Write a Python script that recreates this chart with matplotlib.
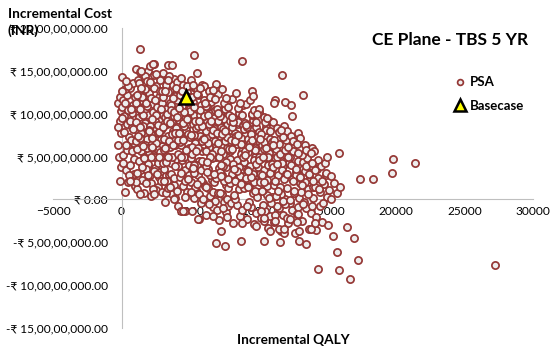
import matplotlib
matplotlib.use("Agg")
from matplotlib import pyplot as plt
from matplotlib.ticker import FuncFormatter, MultipleLocator

plt.rcParams['font.family'] = ['Lato', 'DejaVu Sans']

# PSA iterations: incremental QALY and incremental cost (in crore INR)
psa_qaly = [
    -280, -150, -60, -230, -110, -20, -190, -90, -260, -40,
    40, 130, 250, 360, 470, 580, 690, 780, 880, 960,
    90, 200, 310, 420, 530, 640, 740, 840, 920, 20,
    160, 280, 390, 500, 610, 720, 820, 900, 60, 450,
    1050, 1150, 1260, 1340, 1450, 1560, 1650, 1760, 1870, 1960,
    1100, 1210, 1300, 1420, 1520, 1610, 1720, 1820, 1910, 1380,
    1020, 1180, 1290, 1400, 1490, 1590, 1700, 1800, 1900, 1990,
    1080, 1230, 1330, 1470, 1540, 1680, 1740, 1850, 1940, 1620,
    2050, 2140, 2260, 2330, 2450, 2540, 2640, 2730, 2860, 2950,
    2090, 2200, 2300, 2400, 2500, 2600, 2700, 2800, 2900, 2990,
    2020, 2170, 2280, 2370, 2480, 2580, 2680, 2780, 2880, 2960,
    2110, 2230, 2350, 2430, 2520, 2620, 2750, 2830, 2920, 2060,
    3040, 3150, 3250, 3360, 3450, 3560, 3650, 3760, 3850, 3960,
    3080, 3190, 3300, 3400, 3500, 3600, 3700, 3800, 3900, 3990,
    3020, 3120, 3220, 3330, 3420, 3530, 3630, 3730, 3830, 3930,
    3100, 3210, 3310, 3390, 3480, 3580, 3690, 3790, 3880, 3970,
    4030, 4140, 4250, 4350, 4450, 4560, 4650, 4760, 4850, 4960,
    4080, 4180, 4290, 4390, 4490, 4590, 4690, 4790, 4890, 4990,
    4010, 4120, 4220, 4320, 4420, 4520, 4620, 4720, 4820, 4920,
    4060, 4160, 4270, 4370, 4470, 4570, 4680, 4780, 4880, 4940,
    5040, 5130, 5250, 5340, 5440, 5550, 5640, 5750, 5850, 5950,
    5080, 5180, 5290, 5390, 5490, 5590, 5690, 5790, 5890, 5990,
    5020, 5110, 5220, 5310, 5410, 5510, 5610, 5710, 5810, 5910,
    5060, 5160, 5270, 5370, 5470, 5570, 5670, 5770, 5870, 5970,
    6040, 6140, 6250, 6350, 6450, 6550, 6650, 6750, 6850, 6950,
    6080, 6180, 6290, 6390, 6490, 6590, 6690, 6790, 6890, 6990,
    6020, 6120, 6220, 6320, 6420, 6520, 6620, 6720, 6820, 6920,
    6060, 6160, 6270, 6370, 6470, 6570, 6670, 6770, 6870, 6970,
    7040, 7140, 7250, 7350, 7450, 7550, 7650, 7750, 7850, 7950,
    7080, 7180, 7290, 7390, 7490, 7590, 7690, 7790, 7890, 7990,
    7020, 7120, 7220, 7320, 7420, 7520, 7620, 7720, 7820, 7920,
    7060, 7160, 7270, 7370, 7470, 7570, 7670, 7770, 7870, 7970,
    8040, 8140, 8250, 8350, 8450, 8550, 8650, 8750, 8850, 8950,
    8080, 8180, 8290, 8390, 8490, 8590, 8690, 8790, 8890, 8990,
    8020, 8120, 8220, 8320, 8420, 8520, 8620, 8720, 8820, 8920,
    9040, 9140, 9250, 9350, 9450, 9550, 9650, 9750, 9850, 9950,
    9080, 9180, 9290, 9390, 9490, 9590, 9690, 9790, 9890, 9990,
    9020, 9120, 9220, 9320, 9420, 9520, 9620, 9720, 9820, 9920,
    10040, 10140, 10250, 10350, 10450, 10550, 10650, 10750, 10850, 10950,
    10080, 10180, 10290, 10390, 10490, 10590, 10690, 10790, 10890, 10990,
    10020, 10120, 10220, 10320, 10420, 10520, 10620, 10720, 10820, 10920,
    11040, 11150, 11250, 11350, 11450, 11550, 11650, 11750, 11850, 11950,
    11080, 11200, 11300, 11400, 11500, 11600, 11700, 11800, 11900, 11990,
    12040, 12150, 12250, 12350, 12450, 12550, 12650, 12750, 12850, 12950,
    12080, 12200, 12300, 12400, 12500, 12600, 12700, 12800, 12900, 12990,
    13040, 13150, 13250, 13350, 13450, 13550, 13650, 13750, 13850, 13950,
    13080, 13200, 13300, 13400, 13500, 13600, 13700, 13800, 13900, 13990,
    14050, 14150, 14250, 14350, 14450, 14550, 14650, 14750, 14850, 14950,
    14100, 14300, 14500, 14700, 14900, 15100, 15300, 15500, 15700, 15900,
    # denser core
    15, 115, 235, 345, 455, 565, 675, 765, 865, 975,
    1035, 1135, 1245, 1355, 1465, 1575, 1685, 1795, 1885, 1975,
    1065, 1195, 1315, 1435, 1555, 1665, 1775, 1835, 1925, 1115,
    2035, 2145, 2255, 2365, 2475, 2585, 2695, 2795, 2895, 2985,
    2075, 2185, 2315, 2415, 2515, 2635, 2735, 2845, 2935, 2245,
    3035, 3135, 3245, 3345, 3455, 3565, 3675, 3775, 3875, 3975,
    3065, 3175, 3285, 3415, 3515, 3615, 3715, 3815, 3915, 3375,
    4035, 4145, 4255, 4365, 4475, 4585, 4695, 4795, 4895, 4985,
    4065, 4175, 4305, 4405, 4515, 4625, 4735, 4835, 4935, 4215,
    5035, 5145, 5255, 5365, 5475, 5585, 5695, 5795, 5895, 5985,
    5065, 5175, 5305, 5415, 5525, 5625, 5735, 5835, 5935, 5235,
    6035, 6145, 6255, 6365, 6475, 6585, 6695, 6795, 6895, 6985,
    6065, 6175, 6305, 6415, 6525, 6635, 6735, 6835, 6935, 6215,
    7035, 7145, 7255, 7365, 7475, 7585, 7695, 7795, 7895, 7985,
    7065, 7175, 7305, 7415, 7525, 7635, 7735, 7835, 7935, 7215,
    8035, 8145, 8255, 8365, 8475, 8585, 8695, 8795, 8895, 8985,
    8065, 8175, 8305, 8415, 8525, 8635, 8735, 8835, 8935, 8215,
    9035, 9145, 9255, 9365, 9475, 9585, 9695, 9795, 9895, 9985,
    9065, 9175, 9305, 9415, 9525, 9635, 9735, 9835, 9935, 9215,
    10035, 10145, 10255, 10365, 10475, 10585, 10695, 10795, 10895, 10985,
    10065, 10175, 10305, 10415, 10525, 10635, 10735, 10835, 10935, 10215,
    11035, 11145, 11255, 11365, 11475, 11585, 11695, 11795, 11895, 11985,
    11065, 11175, 11305, 11415, 11525, 11635, 11735, 11835, 11935, 11215,
    12035, 12145, 12255, 12365, 12475, 12585, 12695, 12795, 12895, 12985,
    13035, 13145, 13255, 13365, 13475, 13585, 13695, 13795, 13895, 13985,
    12120, 12480, 12860, 13120, 13480, 13860, 14120, 14380, 14620, 14880,
    # outlying iterations
    5270, 8800, 3650, 2260, 5490, 290, 1410, 11670, 9480, 9600,
    13220, 11200, 11100, 11900, 12350, 12400, 10010, 9890, 15850, 15290,
    17380, 18350, 19780, 21370, 19740, 27250, 14310, 15820, 16670, 17230,
    15700, 16940, 16430, 15440, 15070, 13470, 12930, 10380, 11550, 9770,
    14200, 13780, 7240, 6900, 7560, 8700, 10790, 8770, 12960, 11810,
    11470, 11860, 12780, 5560, 6640, 7660, 10350, 10350, 11200, 12030,
    12270, 12880, 14070, 4350, 4500, 3800, 600, 1340, 2360, 15000,
]

psa_cost_cr = [
    6.3, 9.1, 3.8, 11.2, 2.1, 7.7, 4.9, 12.0, 8.4, 10.3,
    14.3, 11.6, 0.9, 8.8, 6.1, 13.0, 2.4, 10.1, 4.7, 1.6,
    5.2, 9.7, 3.4, 12.2, 7.3, 4.0, 8.5, 11.0, 6.6, 10.8,
    7.9, 12.9, 5.8, 10.4, 9.2, 6.9, 13.6, 3.0, 12.6, 2.0,
    15.2, 1.2, 9.6, 17.6, 4.4, 13.4, 0.7, 11.8, 7.0, 15.0,
    3.1, 8.0, 12.3, 5.6, 10.0, 2.7, 6.4, 9.3, 4.1, 14.9,
    6.8, 10.7, 4.5, 7.8, 2.3, 11.5, 8.9, 3.5, 12.7, 5.3,
    9.0, 13.9, 7.2, 12.0, 8.6, 14.4, 10.3, 6.0, 9.8, 4.9,
    15.6, 0.4, 11.1, 15.8, 3.7, 13.2, 1.5, 9.4, 14.1, 6.2,
    2.8, 7.5, 10.2, 4.9, 8.3, 5.9, 11.9, 3.2, 7.1, 9.9,
    12.4, 5.0, 8.9, 13.0, 6.6, 10.8, 4.3, 12.6, 8.1, 11.3,
    1.9, 6.0, 3.3, 9.2, 1.1, 7.7, 2.6, 5.5, 0.9, 8.6,
    14.8, -0.3, 10.6, 15.7, 2.9, 12.8, 0.6, 8.0, 14.0, 4.7,
    5.8, 9.6, 2.1, 7.4, 11.2, 4.2, 9.0, 1.7, 6.4, 10.4,
    11.9, 7.0, 13.3, 8.8, 12.5, 6.1, 11.0, 13.4, 9.7, 12.1,
    3.6, 0.8, 5.1, 1.3, 6.8, 3.0, 4.9, 2.5, 0.2, 8.3,
    13.7, -0.8, 10.1, 14.2, 1.6, 12.3, -1.4, 8.7, 13.1, 4.0,
    5.3, 9.3, 2.6, 7.2, 11.3, 3.4, 8.1, 0.9, 6.0, 10.7,
    7.8, 3.9, 9.8, 6.3, 4.6, 8.6, 2.2, 5.4, 9.4, 2.9,
    11.6, 12.8, 6.7, 10.9, 13.3, 5.0, 11.9, 12.5, 7.6, 12.0,
    13.9, -1.3, 9.9, 13.0, 1.1, 12.2, -2.3, 7.9, 13.3, 3.6,
    4.8, 8.8, 0.2, 6.6, 10.6, 2.8, 7.4, -0.4, 5.7, 9.6,
    10.3, 6.1, 11.4, 3.1, 8.3, 12.9, 4.5, 9.9, 11.0, 7.0,
    2.0, 5.3, 7.5, 1.4, 4.0, 8.6, 0.6, 3.4, 6.8, 1.9,
    13.2, -1.8, 9.1, 12.6, 0.4, 11.4, -0.9, 7.1, 13.5, 3.0,
    4.2, 8.0, 1.3, 6.1, 10.1, 2.3, 6.9, -0.2, 5.0, 9.0,
    9.7, 5.6, 10.8, 3.6, 8.5, 11.9, 4.8, 9.5, 10.4, 6.4,
    1.6, 3.9, 6.6, -0.5, 2.9, 7.6, 0.9, 2.0, 5.8, -1.2,
    12.3, -2.4, 8.4, 12.9, -0.3, 10.9, -1.5, 6.3, 11.6, 2.4,
    3.7, 7.4, 0.6, 5.3, 9.4, 1.7, 6.0, -0.8, 4.2, 8.1,
    9.1, 4.9, 10.2, 2.9, 7.9, 10.6, 3.8, 8.7, 9.8, 5.6,
    0.8, 3.2, 5.7, -1.0, 2.1, 6.8, 0.1, 1.3, 4.7, -0.4,
    11.7, -2.7, 7.8, 12.4, -0.7, 10.1, -1.9, 5.6, 11.0, 1.6,
    3.0, 6.9, 0.0, 4.6, 8.8, 1.2, 5.3, -1.2, 3.6, 7.5,
    8.4, 4.1, 9.4, 2.3, 6.5, 9.0, 2.7, 7.2, 8.7, 4.4,
    11.1, -2.3, 7.0, 11.6, -0.9, 9.3, -2.9, 4.9, 10.3, 0.9,
    2.5, 6.2, -0.3, 3.9, 8.2, 0.7, 4.6, -1.6, 2.9, 6.8,
    8.9, 3.4, 5.5, 1.6, 7.6, 9.8, 2.0, 6.0, 8.4, 3.8,
    10.2, -2.2, 6.4, 9.6, -1.3, 8.5, -3.3, 4.3, 9.2, 0.3,
    2.0, 5.5, -0.6, 3.4, 7.4, 0.5, 4.0, -1.9, 2.6, 6.2,
    7.9, 3.0, 4.8, 1.1, 6.7, 8.1, 1.6, 5.4, 7.0, 3.3,
    9.0, -2.6, 5.9, 8.3, -1.0, 7.1, -3.7, 3.9, 8.6, 0.0,
    1.7, 4.8, -0.8, 2.9, 6.5, 0.6, 3.4, -1.8, 5.2, 6.9,
    8.0, -2.8, 5.0, 7.4, -1.2, 6.3, -3.9, 3.2, 7.8, 0.2,
    1.3, 4.2, -0.4, 2.4, 5.6, 0.8, 2.9, -1.7, 4.5, 1.9,
    7.2, -2.5, 4.4, 6.4, -1.0, 5.3, -3.4, 2.4, 6.0, 0.2,
    0.9, 3.6, -0.3, 2.0, 4.8, 1.2, 3.0, -1.6, 3.9, 1.5,
    5.7, -2.0, 3.5, 4.6, -0.8, 3.9, -2.6, 1.8, 4.2, 0.3,
    1.4, 2.5, 0.9, -0.4, 2.8, 1.1, 0.0, 1.9, 0.7, 1.5,
    # denser core
    9.5, 4.3, 11.3, 6.3, 13.2, 2.9, 10.5, 5.7, 8.2, 12.0,
    11.2, 5.9, 13.6, 8.5, 3.8, 9.9, 12.9, 1.9, 10.9, 8.1,
    2.0, 7.4, 10.6, 13.0, 6.2, 4.8, 11.2, 13.8, 2.9, 12.2,
    8.0, 11.8, 6.1, 14.5, 9.9, 3.0, 7.9, 13.9, 10.5, 4.2,
    13.7, 9.4, 1.2, 11.6, 14.6, 8.7, 5.0, 2.1, 12.7, 7.2,
    8.5, 12.7, 4.4, 10.0, 14.4, 1.5, 7.6, 11.8, 3.9, 13.0,
    2.2, 6.0, 9.1, 5.0, 8.9, 10.4, 6.3, 10.2, 7.7, 13.9,
    9.6, 6.9, 12.2, 3.1, 8.9, 10.2, 5.8, 13.2, 4.0, 7.3,
    1.0, 10.7, 4.9, 12.6, 6.9, 0.3, 9.4, 2.4, 11.4, 7.7,
    7.5, 11.9, 4.0, 9.1, 12.3, 6.0, 10.4, 2.3, 8.6, 11.6,
    0.9, 3.7, 10.8, 5.7, 1.8, 9.2, 13.0, 4.5, 0.0, 13.4,
    7.0, 10.9, 3.2, 8.8, 12.0, 5.3, 8.1, 11.7, 2.5, 7.8,
    11.3, 1.5, 9.8, 5.0, 9.2, 12.8, 3.0, 6.8, 10.6, 4.4,
    6.6, 9.7, 2.7, 8.2, 11.2, 4.4, 7.3, 10.8, 1.9, 6.9,
    10.1, 0.8, 7.6, 3.9, 8.0, 11.8, 2.4, 5.9, 9.2, 4.0,
    5.9, 9.0, 2.2, 7.4, 10.7, 3.8, 6.5, 9.9, 1.3, 5.7,
    9.6, 0.5, 6.8, 3.3, 7.5, 11.2, 1.8, 5.0, 8.2, 3.5,
    5.2, 8.4, 1.5, 6.6, 10.0, 3.0, 5.8, 9.0, 0.3, 4.9,
    8.7, -0.8, 6.1, 2.6, 6.9, 10.4, 1.0, 4.1, 7.3, 3.3,
    4.6, 7.6, 1.0, 5.9, 9.0, 2.3, 5.0, 8.0, -0.4, 4.1,
    7.1, -1.4, 5.0, 2.0, 6.0, 9.5, 0.2, 3.1, 6.7, 2.8,
    3.8, 6.9, 0.4, 5.0, 7.9, 1.5, 4.3, 7.3, -0.5, 3.0,
    6.3, -1.8, 4.1, 1.0, 5.3, 8.1, -0.2, 2.4, 5.8, 2.1,
    3.0, 6.1, -0.1, 4.0, 6.8, 1.0, 3.6, 6.5, -0.9, 2.5,
    2.6, 5.2, -0.5, 3.3, 5.8, 0.6, 3.0, 5.4, -0.8, 2.2,
    4.9, 2.2, 5.4, 1.7, 3.9, 4.3, 3.4, 1.2, 2.1, 3.1,
    # outlying iterations
    16.9, 16.1, 15.7, 15.8, 14.8, 13.8, 15.0, 14.5, 12.6, 12.05,
    12.2, 11.6, 11.3, 11.4, 11.05, 9.7, 10.6, 10.0, 5.4, 2.7,
    2.4, 2.4, 4.7, 4.3, 3.1, -7.6, -8.1, -8.25, -9.3, -7.1,
    -6.1, -4.55, -3.27, -4.3, -3.0, -5.2, -4.9, -4.8, -5.0, -3.15,
    -3.6, -3.5, -3.7, -5.05, -5.4, -4.9, -3.65, -2.7, -3.7, -3.9,
    -3.4, -3.4, -2.6, -2.25, -1.95, -2.0, -2.57, -2.2, -2.5, -2.2,
    -2.33, -1.75, -2.76, -1.3, -1.36, 0.0, 2.1, 0.66, 0.66, 4.9,
]

base_qaly = [4700]
base_cost_cr = [11.9]

CRORE = 1e7
psa_cost = [c * CRORE for c in psa_cost_cr]
base_cost = [c * CRORE for c in base_cost_cr]


def inr(v, pos=None):
    # Indian digit grouping: 15,00,00,000.00
    n = int(round(abs(v)))
    s = str(n)
    if len(s) > 3:
        head, tail = s[:-3], s[-3:]
        groups = []
        while len(head) > 2:
            groups.insert(0, head[-2:])
            head = head[:-2]
        if head:
            groups.insert(0, head)
        s = ','.join(groups) + ',' + tail
    sign = '-' if v < 0 else ''
    return sign + '\u20b9 ' + s + '.00'


fig = plt.figure(figsize=(5.51, 3.52), dpi=100)
ax = fig.add_axes([53 / 551, 24 / 352, 480 / 551, 300 / 352])

ax.scatter(psa_qaly, psa_cost, s=27, facecolor='#eeeeee', edgecolor='#953735',
           linewidth=1.25, label='PSA', zorder=3)
ax.plot(base_qaly, base_cost, '^', markersize=10, markerfacecolor='#ffff00',
        markeredgecolor='black', markeredgewidth=1.8, label='Basecase', zorder=4)

ax.set_xlim(-5000, 30000)
ax.set_ylim(-15 * CRORE, 20 * CRORE)
ax.xaxis.set_major_locator(MultipleLocator(5000))
ax.yaxis.set_major_locator(MultipleLocator(5 * CRORE))
ax.yaxis.set_major_formatter(FuncFormatter(inr))

for side in ['top', 'right']:
    ax.spines[side].set_visible(False)
ax.spines['left'].set_position(('data', 0))
ax.spines['bottom'].set_position(('data', 0))
ax.spines['left'].set_color('#bfbfbf')
ax.spines['bottom'].set_color('#bfbfbf')
ax.tick_params(axis='both', length=0, labelsize=8.6, colors='black')
ax.tick_params(axis='y', pad=10)
ax.tick_params(axis='x', pad=5)

fig.text(8 / 551, 1 - 8 / 352, 'Incremental Cost\n(INR)', fontsize=9.8,
         fontweight='bold', ha='left', va='top', linespacing=1.45)
fig.text(293 / 551, 1 - 340 / 352, 'Incremental QALY', fontsize=9.8,
         fontweight='bold', ha='center', va='center')
fig.text(528 / 551, 1 - 40 / 352, 'CE Plane - TBS 5 YR', fontsize=12.5,
         fontweight='bold', ha='right', va='center')

ax.legend(loc='upper left', bbox_to_anchor=(440 / 551, 1 - 64 / 352),
          bbox_transform=fig.transFigure, frameon=False,
          prop={'weight': 'bold', 'size': 9.5}, handletextpad=0.2,
          labelspacing=0.9, handlelength=1.2, markerscale=0.8)

plt.savefig('out.png', dpi=100)
